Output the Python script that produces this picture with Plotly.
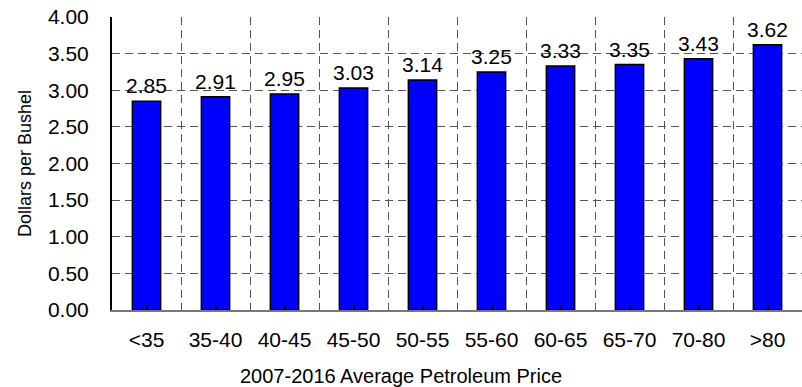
import plotly.graph_objects as go

# Average corn price by petroleum price band
price_bands = ["<35", "35-40", "40-45", "45-50", "50-55", "55-60",
               "60-65", "65-70", "70-80", ">80"]
dollars_per_bushel = [2.85, 2.91, 2.95, 3.03, 3.14, 3.25, 3.33, 3.35, 3.43, 3.62]
y_ticks = [0, 0.5, 1.0, 1.5, 2.0, 2.5, 3.0, 3.5, 4.0]

FONT = "Liberation Sans, Arial, sans-serif"

fig = go.Figure()
fig.add_trace(go.Bar(
    x=price_bands,
    y=dollars_per_bushel,
    width=0.41,
    marker=dict(color="#0000FF", line=dict(color="#000000", width=1.5)),
    showlegend=False,
))
# invisible companion trace to carry the centre tick marks on xaxis2
fig.add_trace(go.Bar(
    x=price_bands, y=[None] * len(price_bands), xaxis="x2",
    showlegend=False, hoverinfo="skip",
))

# value labels above each bar
for band, val in zip(price_bands, dollars_per_bushel):
    fig.add_annotation(
        x=band, y=val, xref="x", yref="y",
        text=f"{val:.2f}", showarrow=False,
        yanchor="bottom", yshift=2,
        font=dict(family=FONT, size=21, color="#000000"),
    )

# x-axis title, centred on the whole figure
fig.add_annotation(
    x=(401 - 112) / 690, y=0, xref="paper", yref="paper",
    yanchor="top", yshift=-53,
    text="2007-2016 Average Petroleum Price", showarrow=False,
    font=dict(family=FONT, size=20, color="#000000"),
)

fig.update_layout(
    width=802, height=387,
    margin=dict(l=112, r=0, t=17, b=77),
    paper_bgcolor="white", plot_bgcolor="white",
    font=dict(family=FONT, color="#000000"),
    xaxis=dict(
        type="category",
        range=[-0.5, 9.5],
        tickson="boundaries",
        showgrid=True, gridcolor="#555555", gridwidth=1, griddash="8px,5px",
        ticks="",
        tickfont=dict(size=21),
        ticklabelstandoff=10,
        showline=True, linecolor="#777777", linewidth=2,
        zeroline=False,
    ),
    xaxis2=dict(
        type="category",
        overlaying="x", anchor="y", side="bottom",
        range=[-0.5, 9.5],
        ticks="inside", ticklen=5, tickwidth=1.5, tickcolor="#000000",
        showticklabels=False, showgrid=False, showline=False,
        layer="above traces",
    ),
    yaxis=dict(
        range=[0, 4],
        tickvals=y_ticks,
        ticktext=[f"{v:.2f}" for v in y_ticks],
        showgrid=True, gridcolor="#555555", gridwidth=1, griddash="8px,5px",
        ticks="",
        tickfont=dict(size=21),
        ticklabelstandoff=17,
        showline=True, linecolor="#000000", linewidth=2,
        zeroline=False,
        title=dict(text="Dollars per Bushel", font=dict(size=18), standoff=12),
    ),
)

fig.write_html("out.html")
